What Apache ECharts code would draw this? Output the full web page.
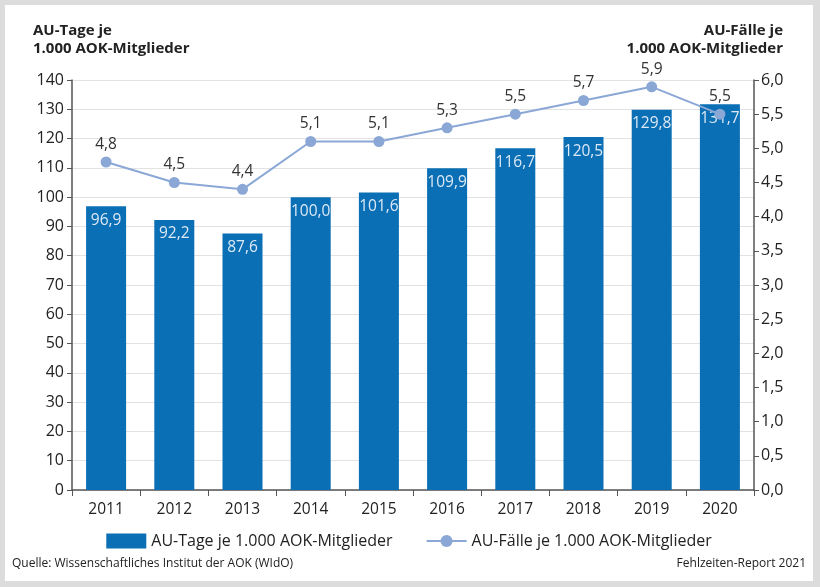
<!DOCTYPE html>
<html><head><meta charset="utf-8">
<script src="https://cdn.jsdelivr.net/npm/echarts@6/dist/echarts.min.js"></script>
<style>
html,body{margin:0;padding:0;background:#dcdcdc;width:820px;height:587px;overflow:hidden}
#chart{position:absolute;left:5px;top:5px;width:808px;height:576px;background:#fff}
</style></head>
<body><div id="chart"></div>
<script>
const years = ['2011','2012','2013','2014','2015','2016','2017','2018','2019','2020'];
const auTage = [96.9, 92.2, 87.6, 100.0, 101.6, 109.9, 116.7, 120.5, 129.8, 131.7];
const auFaelle = [4.8, 4.5, 4.4, 5.1, 5.1, 5.3, 5.5, 5.7, 5.9, 5.5];
const nameTage = 'AU-Tage je 1.000 AOK-Mitglieder';
const nameFaelle = 'AU-Fälle je 1.000 AOK-Mitglieder';
const FONT = 'Open Sans';
const de1 = v => Number(v).toFixed(1).replace('.', ',');

const chart = echarts.init(document.getElementById('chart'));
chart.setOption({
  animation: false,
  textStyle: {fontFamily: FONT},
  grid: {left: 67, right: 59, top: 75, bottom: 91},
  legend: {
    top: 523, left: 'center', itemWidth: 40, itemHeight: 15, itemGap: 33,
    textStyle: {fontFamily: FONT, fontSize: 16, color: '#222'},
    data: [{name: nameTage, icon: 'rect'}, {name: nameFaelle}]
  },
  xAxis: {
    type: 'category', data: years,
    axisLine: {lineStyle: {color: '#555', width: 1.5}},
    axisTick: {show: true, length: 6, lineStyle: {color: '#555'}},
    axisLabel: {fontFamily: FONT, fontSize: 15.5, color: '#222', margin: 12}
  },
  yAxis: [{
    type: 'value', min: 0, max: 140, interval: 10,
    axisLine: {show: true, lineStyle: {color: '#555', width: 1.5}},
    axisTick: {show: true, length: 5, lineStyle: {color: '#555'}},
    axisLabel: {fontFamily: FONT, fontSize: 16, color: '#222', margin: 8},
    splitLine: {lineStyle: {color: '#e2e2e2'}}
  }, {
    type: 'value', min: 0, max: 6, interval: 0.5, position: 'right',
    axisLine: {show: true, lineStyle: {color: '#555', width: 1.5}},
    axisTick: {show: true, length: 5, lineStyle: {color: '#555'}},
    axisLabel: {fontFamily: FONT, fontSize: 16, color: '#222', margin: 7, formatter: v => de1(v)},
    splitLine: {show: false}
  }],
  series: [{
    name: nameTage, type: 'bar', data: auTage, barWidth: 40, yAxisIndex: 0,
    itemStyle: {color: '#0a6fb5'},
    label: {show: true, position: 'insideTop', distance: 6, color: '#dde9f6',
      fontFamily: FONT, fontSize: 15.5, formatter: p => de1(p.value)}
  }, {
    name: nameFaelle, type: 'line', data: auFaelle, yAxisIndex: 1,
    symbol: 'circle', symbolSize: 11,
    lineStyle: {color: '#8aa7d6', width: 2},
    itemStyle: {color: '#8aa7d6'},
    label: {show: true, position: 'top', distance: 4, color: '#333',
      fontFamily: FONT, fontSize: 15.5, formatter: p => de1(p.value)},
    z: 5
  }],
  graphic: [
    {type: 'text', left: 28, top: 18, style: {text: 'AU-Tage je',
      font: 'bold 15px "Open Sans"', fill: '#222'}},
    {type: 'text', left: 28, top: 36, style: {text: '1.000 AOK-Mitglieder',
      font: 'bold 15px "Open Sans"', fill: '#222'}},
    {type: 'text', right: 30, top: 18, style: {text: 'AU-Fälle je',
      font: 'bold 15px "Open Sans"', fill: '#222'}},
    {type: 'text', right: 30, top: 36, style: {text: '1.000 AOK-Mitglieder',
      font: 'bold 15px "Open Sans"', fill: '#222'}},
    {type: 'text', left: 7, top: 553, style: {text: 'Quelle: Wissenschaftliches Institut der AOK (WIdO)',
      font: '12px "Open Sans"', fill: '#222'}},
    {type: 'text', right: 7, top: 553, style: {text: 'Fehlzeiten-Report 2021',
      font: '12px "Open Sans"', fill: '#222'}}
  ]
});
</script></body></html>
